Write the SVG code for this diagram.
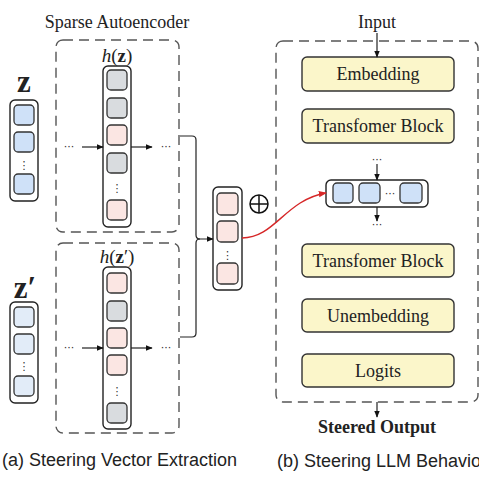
<svg xmlns="http://www.w3.org/2000/svg" width="479" height="479" viewBox="0 0 479 479">
<style>
.serif{font-family:"Liberation Serif","Times New Roman",serif;fill:#222}
.sans{font-family:"Liberation Sans",Arial,sans-serif;fill:#222}
.dash{fill:none;stroke:#555;stroke-width:1.4;stroke-dasharray:10 6}
.col{fill:#fff;stroke:#222;stroke-width:1.4}
.cell{stroke:#333;stroke-width:1.3}
.g{fill:#d9dcdf}.p{fill:#fbe6e3}.b{fill:#cfe1f8}.lb{fill:#e2ecf8}
.blk{fill:#fbf6ca;stroke:#333;stroke-width:1.4}
.ln{fill:none;stroke:#222;stroke-width:1.2}
.dots{font-family:"DejaVu Sans",sans-serif;fill:#333;font-size:11px}
</style>
<defs>
<marker id="ah" viewBox="0 0 10 10" refX="9" refY="5" markerWidth="7" markerHeight="7" orient="auto" markerUnits="userSpaceOnUse"><path d="M0,1 L10,5 L0,9 z" fill="#111"/></marker>
<marker id="ahr" viewBox="0 0 10 10" refX="9" refY="5" markerWidth="8" markerHeight="8" orient="auto" markerUnits="userSpaceOnUse"><path d="M0,1 L10,5 L0,9 z" fill="#d62728"/></marker>
</defs>

<!-- Part (a) -->
<g id="sae-top">
<text class="serif" x="117" y="28" font-size="18" text-anchor="middle">Sparse Autoencoder</text>
<rect class="dash" x="56" y="40" width="123" height="192" rx="7"/>
<text class="serif" x="117" y="62" font-size="19" text-anchor="middle"><tspan font-style="italic">h</tspan>(<tspan font-weight="bold">z</tspan>)</text>
<rect class="col" x="103" y="66" width="28" height="161" rx="5"/>
<rect class="cell g" x="107" y="70" width="20" height="20" rx="4"/>
<rect class="cell g" x="107" y="98" width="20" height="20" rx="4"/>
<rect class="cell p" x="107" y="125" width="20" height="20" rx="4"/>
<rect class="cell g" x="107" y="153" width="20" height="20" rx="4"/>
<text class="dots" x="117" y="192" text-anchor="middle">⋮</text>
<rect class="cell p" x="107" y="200" width="20" height="20" rx="4"/>
<text class="dots" x="69" y="150" text-anchor="middle">···</text>
<text class="dots" x="166" y="150" text-anchor="middle">···</text>
</g>

<g id="z-top">
<text class="serif" x="24" y="92" font-size="31" font-weight="bold" text-anchor="middle">z</text>
<rect class="col" x="10" y="100" width="28" height="101" rx="5"/>
<rect class="cell b" x="14" y="105" width="20" height="20" rx="4"/>
<rect class="cell b" x="14" y="132" width="20" height="20" rx="4"/>
<text class="dots" x="24" y="169" text-anchor="middle">⋮</text>
<rect class="cell b" x="14" y="174" width="20" height="20" rx="4"/>
</g>

<g id="sae-bottom">
<rect class="dash" x="56" y="243" width="123" height="190" rx="7"/>
<text class="serif" x="117" y="263" font-size="19" text-anchor="middle"><tspan font-style="italic">h</tspan>(<tspan font-weight="bold">z</tspan>′)</text>
<rect class="col" x="103" y="267" width="28" height="162" rx="5"/>
<rect class="cell p" x="107" y="273" width="20" height="20" rx="4"/>
<rect class="cell g" x="107" y="301" width="20" height="20" rx="4"/>
<rect class="cell p" x="107" y="328" width="20" height="20" rx="4"/>
<rect class="cell p" x="107" y="355" width="20" height="20" rx="4"/>
<text class="dots" x="117" y="395" text-anchor="middle">⋮</text>
<rect class="cell g" x="107" y="403" width="20" height="20" rx="4"/>
<text class="dots" x="69" y="351" text-anchor="middle">···</text>
<text class="dots" x="166" y="351" text-anchor="middle">···</text>
</g>

<g id="z-bottom">
<text class="serif" x="25" y="298" font-size="31" font-weight="bold" text-anchor="middle">z′</text>
<rect class="col" x="10" y="302" width="28" height="101" rx="5"/>
<rect class="cell lb" x="14" y="307" width="20" height="20" rx="4"/>
<rect class="cell lb" x="14" y="334" width="20" height="20" rx="4"/>
<text class="dots" x="24" y="370" text-anchor="middle">⋮</text>
<rect class="cell lb" x="14" y="376" width="20" height="20" rx="4"/>
</g>

<g id="steer-vector">
<rect class="col" x="213" y="187" width="29" height="103" rx="5"/>
<rect class="cell p" x="217" y="193" width="21" height="22" rx="4"/>
<rect class="cell p" x="217" y="221" width="21" height="21" rx="4"/>
<text class="dots" x="227.5" y="259" text-anchor="middle">⋮</text>
<rect class="cell p" x="217" y="263" width="21" height="21" rx="4"/>
<g id="oplus" fill="none" stroke="#111" stroke-width="1.5">
<circle cx="259" cy="204" r="9"/>
<path d="M250,204 H268 M259,195 V213"/>
</g>
</g>

<text class="sans" x="2" y="466" font-size="18">(a) Steering Vector Extraction</text>

<!-- Part (b) -->
<g id="llm">
<text class="serif" x="377" y="28" font-size="18" text-anchor="middle">Input</text>
<rect class="dash" x="276" y="41" width="202" height="361" rx="7"/>
</g>
<g id="embedding">
<rect class="blk" x="302" y="57" width="152" height="34" rx="5"/>
<text class="serif" x="378" y="80" font-size="18" text-anchor="middle">Embedding</text>
</g>
<g id="block1">
<rect class="blk" x="302" y="109" width="152" height="34" rx="5"/>
<text class="serif" x="378" y="132" font-size="18" text-anchor="middle">Transfomer Block</text>
</g>
<g id="tokens">
<text class="dots" x="377" y="163" text-anchor="middle">···</text>
<rect class="col" x="326" y="180" width="102" height="27" rx="5"/>
<rect class="cell b" x="333" y="183" width="20" height="20" rx="4"/>
<rect class="cell b" x="359" y="183" width="21" height="20" rx="4"/>
<text class="dots" x="390" y="197" text-anchor="middle">···</text>
<rect class="cell b" x="400" y="183" width="22" height="20" rx="4"/>
<text class="dots" x="377" y="228" text-anchor="middle">···</text>
</g>
<g id="block2">
<rect class="blk" x="302" y="244" width="152" height="33" rx="5"/>
<text class="serif" x="378" y="267" font-size="18" text-anchor="middle">Transfomer Block</text>
</g>
<g id="unembedding">
<rect class="blk" x="302" y="299" width="152" height="33" rx="5"/>
<text class="serif" x="378" y="322" font-size="18" text-anchor="middle">Unembedding</text>
</g>
<g id="logits">
<rect class="blk" x="302" y="354" width="152" height="33" rx="5"/>
<text class="serif" x="378" y="377" font-size="18" text-anchor="middle">Logits</text>
</g>
<text class="serif" x="377" y="433" font-size="18" font-weight="bold" text-anchor="middle">Steered Output</text>
<text class="sans" x="277" y="467" font-size="18">(b) Steering LLM Behavior</text>

<g id="connectors">
<path class="ln" d="M82,147 H103" marker-end="url(#ah)"/>
<path class="ln" d="M131,147 H152" marker-end="url(#ah)"/>
<path class="ln" d="M82,348 H103" marker-end="url(#ah)"/>
<path class="ln" d="M131,348 H152" marker-end="url(#ah)"/>
<path class="ln" d="M180,136 H192 Q196,136 196,140 V235 Q196,239 200,239 H213" marker-end="url(#ah)"/>
<path class="ln" d="M180,337 H192 Q196,337 196,333 V243 Q196,239 200,239"/>
<path fill="none" stroke="#d62728" stroke-width="1.4" d="M242,238 C275,238 285,200 326,193" marker-end="url(#ahr)"/>
<path class="ln" d="M377,33 V57" marker-end="url(#ah)"/>
<path class="ln" d="M377,164 V180" marker-end="url(#ah)"/>
<path class="ln" d="M377,207 V221" marker-end="url(#ah)"/>
<path class="ln" d="M377,402 V417" marker-end="url(#ah)"/>
</g>
</svg>
